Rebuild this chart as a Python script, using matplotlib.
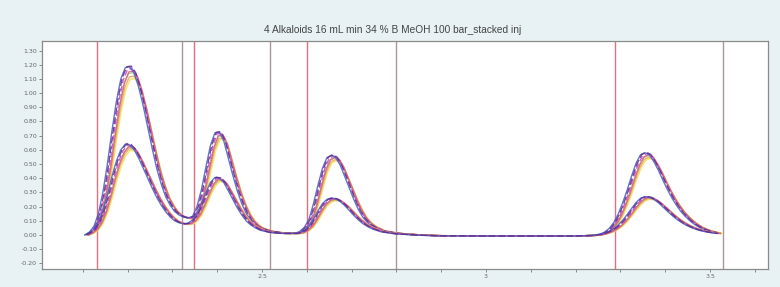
import numpy as np
import matplotlib
matplotlib.use("Agg")
import matplotlib.pyplot as plt
from matplotlib.ticker import MultipleLocator, FixedLocator, FormatStrFormatter

title = "4 Alkaloids 16 mL min 34 % B MeOH 100 bar_stacked inj"

# retention time (min) sample points
t = [2.11, 2.12, 2.13, 2.14, 2.15, 2.16, 2.17, 2.18, 2.19, 2.20,
     2.21, 2.22, 2.23, 2.24, 2.25, 2.26, 2.27, 2.28, 2.29, 2.30,
     2.31, 2.32, 2.33, 2.34, 2.35, 2.36, 2.37, 2.38, 2.39, 2.40,
     2.41, 2.42, 2.43, 2.44, 2.45, 2.46, 2.47, 2.48, 2.49, 2.50,
     2.52, 2.55, 2.58, 2.59, 2.60, 2.61, 2.62, 2.63, 2.64, 2.65,
     2.66, 2.67, 2.68, 2.69, 2.70, 2.71, 2.72, 2.73, 2.74, 2.75,
     2.77, 2.80, 2.85, 2.90, 3.00, 3.10, 3.20, 3.24, 3.26, 3.27,
     3.28, 3.29, 3.30, 3.31, 3.32, 3.33, 3.34, 3.35, 3.36, 3.37,
     3.38, 3.39, 3.40, 3.41, 3.42, 3.43, 3.44, 3.45, 3.46, 3.47,
     3.48, 3.49, 3.50, 3.51, 3.52]

# high-concentration injection signal (AU)
high = [0.00, 0.02, 0.06, 0.15, 0.30, 0.50, 0.73, 0.94, 1.10, 1.18,
        1.185, 1.14, 1.04, 0.91, 0.76, 0.61, 0.47, 0.36, 0.27, 0.21,
        0.165, 0.14, 0.125, 0.12, 0.13, 0.20, 0.32, 0.48, 0.63, 0.72,
        0.725, 0.66, 0.54, 0.42, 0.31, 0.22, 0.15, 0.10, 0.068, 0.047,
        0.026, 0.012, 0.012, 0.025, 0.055, 0.11, 0.22, 0.35, 0.47, 0.545,
        0.562, 0.545, 0.49, 0.41, 0.33, 0.25, 0.18, 0.125, 0.088, 0.062,
        0.03, 0.012, 0.0, -0.006, -0.008, -0.008, -0.008, -0.004, 0.005, 0.02,
        0.045, 0.085, 0.145, 0.225, 0.315, 0.415, 0.505, 0.565, 0.58, 0.565,
        0.515, 0.455, 0.385, 0.32, 0.26, 0.21, 0.165, 0.13, 0.10, 0.075,
        0.055, 0.04, 0.028, 0.02, 0.012]

# low-concentration injection signal (AU)
low = [0.00, 0.015, 0.04, 0.09, 0.17, 0.28, 0.41, 0.52, 0.60, 0.64,
       0.635, 0.60, 0.54, 0.47, 0.40, 0.33, 0.265, 0.21, 0.163, 0.127,
       0.10, 0.085, 0.078, 0.082, 0.105, 0.15, 0.22, 0.30, 0.37, 0.405,
       0.40, 0.368, 0.31, 0.25, 0.19, 0.14, 0.098, 0.07, 0.05, 0.034,
       0.018, 0.01, 0.01, 0.016, 0.032, 0.062, 0.11, 0.17, 0.22, 0.25,
       0.26, 0.253, 0.234, 0.206, 0.172, 0.137, 0.106, 0.08, 0.06, 0.044,
       0.022, 0.008, -0.002, -0.007, -0.008, -0.008, -0.008, -0.005, 0.003, 0.012,
       0.025, 0.043, 0.068, 0.102, 0.142, 0.186, 0.228, 0.258, 0.27, 0.265,
       0.25, 0.226, 0.197, 0.167, 0.138, 0.112, 0.09, 0.071, 0.056, 0.043,
       0.033, 0.025, 0.019, 0.014, 0.01]

# replicate injections: retention shift (min) and peak-height ratio read from the overlay
rep_shift_high = [0.006, 0.004, 0.002, 0.003, 0.0, -0.005, -0.002]
rep_scale_high = [0.93, 0.945, 0.965, 0.975, 0.99, 1.0, 1.005]
rep_shift_low = [0.006, 0.004, 0.002, 0.003, 0.0, -0.005, -0.002]
rep_scale_low = [0.93, 0.95, 0.965, 0.975, 0.99, 1.0, 1.005]
rep_colors = ["#f2e44c", "#e8a65a", "#98c47a", "#e2607c", "#c444c8", "#4a5cc4", "#5a2c8c"]
rep_dash = ["-", "-", "-", "-", (0, (4, 2)), "-", (0, (5, 2))]

# integration markers (start / end of each peak window)
marker_start = [2.132, 2.349, 2.600, 3.289]
marker_end = [2.322, 2.519, 2.800, 3.530]

fig = plt.figure(figsize=(7.8, 2.87), dpi=100)
fig.patch.set_facecolor("#e8f2f4")
ax = fig.add_axes([0.0538, 0.0627, 0.9305, 0.7945])
ax.set_facecolor("white")

for xs in marker_start:
    ax.axvline(xs, color="#e3707f", lw=1.0, zorder=1)
for xe in marker_end:
    ax.axvline(xe, color="#ad959d", lw=1.0, zorder=1)

tt = np.array(t)
for sh, sc, c, ls in zip(rep_shift_high, rep_scale_high, rep_colors, rep_dash):
    ax.plot(tt + sh, np.array(high) * sc, color=c, lw=1.0, ls=ls, alpha=0.85, zorder=2)
for sh, sc, c, ls in zip(rep_shift_low, rep_scale_low, rep_colors, rep_dash):
    ax.plot(tt + sh, np.array(low) * sc, color=c, lw=1.0, ls=ls, alpha=0.85, zorder=2)

ax.set_xlim(2.009, 3.629)
ax.set_ylim(-0.241, 1.368)
ax.xaxis.set_major_locator(FixedLocator([2.5, 3.0, 3.5]))
ax.xaxis.set_major_formatter(matplotlib.ticker.FuncFormatter(lambda v, p: f"{v:g}"))
ax.xaxis.set_minor_locator(MultipleLocator(0.1))
ax.yaxis.set_major_locator(MultipleLocator(0.1))
ax.yaxis.set_major_formatter(FormatStrFormatter("%.2f"))
ax.tick_params(axis="both", which="both", direction="out", length=2, width=0.6,
               colors="#777777", labelsize=4.5, labelcolor="#666666", pad=1.5)
for s in ax.spines.values():
    s.set_color("#8a8a8a")
    s.set_linewidth(0.9)

fig.text(0.503, 0.895, title, ha="center", va="center", fontsize=7.3,
         family="Liberation Sans", color="#444444")

fig.savefig("out.png", dpi=100, facecolor=fig.get_facecolor())
